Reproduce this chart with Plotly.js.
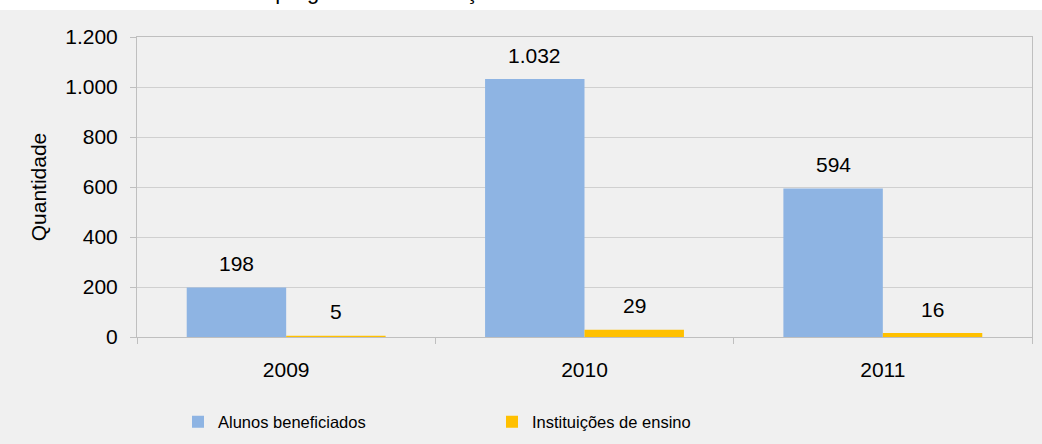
<!DOCTYPE html>
<html>
<head>
<meta charset="utf-8">
<script src="https://cdn.plot.ly/plotly-3.0.1.min.js"></script>
<style>
html,body{margin:0;padding:0;background:#ffffff;}
#chart{width:1042px;height:444px;}
</style>
</head>
<body>
<div id="chart"></div>
<script>
var titleText = "Histórico do programa de educação financeira nas escolas de ensino médio";
var years = ["2009", "2010", "2011"];
var alunos = [198, 1032, 594];
var instituicoes = [5, 29, 16];
var seriesNames = ["Alunos beneficiados", "Instituições de ensino"];
var yTickVals = [0, 200, 400, 600, 800, 1000, 1200];
var yAxisTitle = "Quantidade";

var FONT = "Liberation Sans, Arial, sans-serif";

function fmt(v) {
  return String(v).replace(/\B(?=(\d{3})+(?!\d))/g, ".");
}

var traces = [
  {type: "bar", name: seriesNames[0], x: years, y: alunos,
   marker: {color: "#8EB4E3", line: {width: 0}}, hoverinfo: "x+y"},
  {type: "bar", name: seriesNames[1], x: years, y: instituicoes,
   marker: {color: "#FFC000", line: {width: 0}}, hoverinfo: "x+y"}
];

var annotations = [];
[alunos, instituicoes].forEach(function (arr, si) {
  arr.forEach(function (v, i) {
    annotations.push({
      x: i, y: v, xref: "x", yref: "y",
      text: fmt(v), showarrow: false,
      xshift: si === 0 ? -49.7 : 49.7, yshift: 24,
      yanchor: "middle", xanchor: "center",
      font: {family: FONT, size: 21, color: "#000000"}
    });
  });
});

annotations.push({
  text: titleText, showarrow: false,
  xref: "paper", yref: "paper",
  x: (523 - 137) / 895, xanchor: "center",
  y: 1 + (37 + 8.5) / 300, yanchor: "middle",
  font: {family: FONT, size: 22, color: "#000000"}
});

var layout = {
  width: 1042, height: 444,
  margin: {l: 137, r: 10, t: 37, b: 107, pad: 0, autoexpand: false},
  paper_bgcolor: "#F0F0F0",
  plot_bgcolor: "#F0F0F0",
  separators: ",.",
  barmode: "group",
  bargap: 1/3,
  bargroupgap: 0,
  font: {family: FONT, size: 21, color: "#000000"},
  xaxis: {
    type: "category",
    categoryarray: years, categoryorder: "array",
    range: [-0.5, 2.5], autorange: false,
    tickson: "boundaries",
    ticks: "outside", ticklen: 6, tickcolor: "#BFBFBF", tickwidth: 1,
    showline: true, linecolor: "#BFBFBF", linewidth: 1, mirror: true,
    showgrid: false, zeroline: false,
    tickangle: 0, automargin: false,
    tickfont: {family: FONT, size: 21, color: "#000000"},
    ticklabelstandoff: 14,
    fixedrange: true
  },
  yaxis: {
    range: [0, 1200], autorange: false,
    tickvals: yTickVals,
    tickformat: ",d",
    ticks: "outside", ticklen: 6, tickcolor: "#BFBFBF", tickwidth: 1,
    showline: true, linecolor: "#BFBFBF", linewidth: 1, mirror: true,
    showgrid: true, gridcolor: "#D0D0D0", gridwidth: 1,
    zeroline: false, automargin: false,
    tickfont: {family: FONT, size: 21, color: "#000000"},
    ticklabelstandoff: 8,
    title: {text: yAxisTitle, font: {family: FONT, size: 21, color: "#000000"}, standoff: 12},
    fixedrange: true
  },
  legend: {
    orientation: "h",
    x: (178 - 137) / 895, xanchor: "left",
    y: (337 - 422) / 300, yanchor: "middle",
    bgcolor: "rgba(0,0,0,0)",
    entrywidth: 269, entrywidthmode: "pixels",
    font: {family: FONT, size: 16.5, color: "#000000"},
    traceorder: "normal"
  },
  shapes: [{
    type: "rect", xref: "paper", yref: "paper", layer: "below",
    x0: -137/895 - 0.01, x1: 1 + 10/895 + 0.01,
    y0: 1 + (37 - 10) / 300, y1: 1 + 37 / 300 + 0.01,
    fillcolor: "#FFFFFF", line: {width: 0}
  }],
  annotations: annotations,
  showlegend: true
};

Plotly.newPlot("chart", traces, layout, {displayModeBar: false, staticPlot: true});
</script>
</body>
</html>
